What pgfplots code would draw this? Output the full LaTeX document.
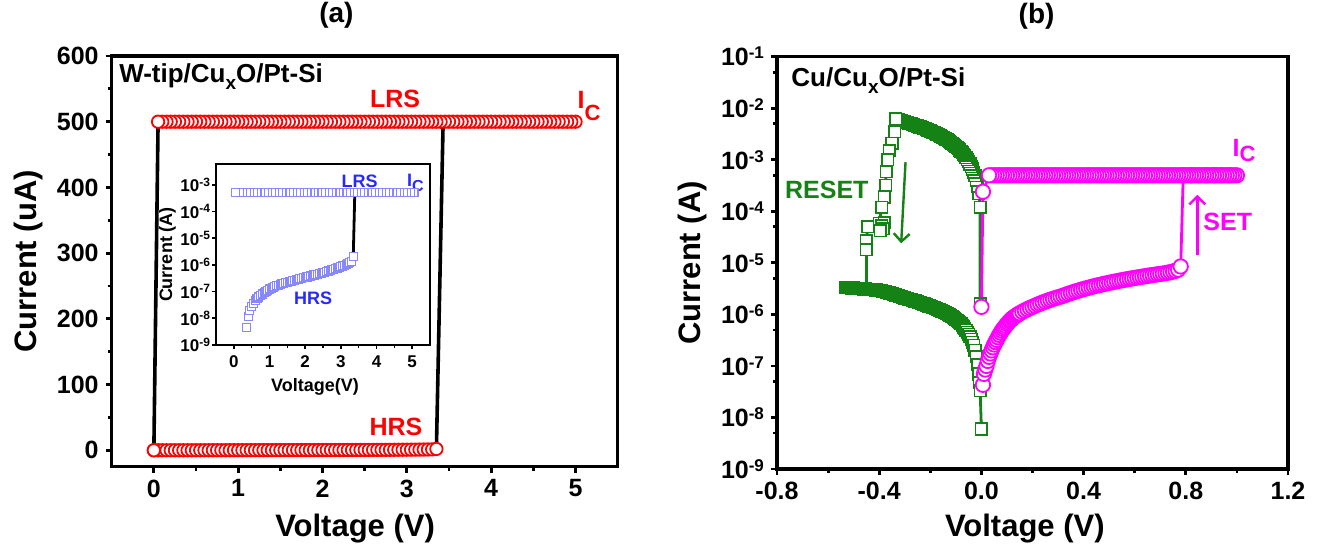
\documentclass[border=0pt]{standalone}
\usepackage{fontspec}
\setmainfont{Liberation Sans}
\usepackage{pgfplots}
\pgfplotsset{compat=1.18}
\usetikzlibrary{arrows.meta}
\definecolor{myred}{RGB}{255,0,0}
\definecolor{mygreen}{RGB}{20,130,20}
\definecolor{mymag}{RGB}{255,0,255}
\definecolor{myblue}{RGB}{40,40,255}
\definecolor{mylblue}{RGB}{135,135,255}
\pgfplotsset{
  myax/.style={scale only axis, tick pos=left, tick align=outside,
    axis line style={line width=1.6pt, line cap=rect},
    every tick/.style={black, line width=1.4pt},
    major tick length=3pt, minor tick length=2pt,
    /pgf/number format/assume math mode=true,
    tick label style={font=\fontsize{12.5}{12.5}\selectfont\bfseries},
    title style={font=\fontsize{14}{14}\selectfont\bfseries},
  },
}
\tikzset{txt/.style={font=\fontsize{12.5}{12.5}\selectfont\bfseries, inner sep=0pt}}
\begin{document}
\begin{tikzpicture}
\useasboundingbox (0,0) rectangle (658.5pt,273pt);
% ---------------- panel (a) ----------------
\begin{axis}[myax, at={(55.85pt,39.65pt)}, anchor=south west,
  width=253pt, height=205.35pt,
  xmin=-0.5, xmax=5.5, ymin=-25, ymax=600,
  xtick={0,1,2,3,4,5}, ytick={0,100,200,300,400,500,600},
  minor x tick num=1, minor y tick num=1,
  xlabel={Voltage (V)}, ylabel={Current (uA)}, title={(a)},
  every axis x label/.style={at={(axis description cs:0.481,-0.170)}, anchor=base, font=\fontsize{15.5}{15.5}\selectfont\bfseries},
  every axis y label/.style={at={(axis description cs:-0.149,0.5)}, rotate=90, anchor=base, font=\fontsize{15.5}{15.5}\selectfont\bfseries},
  title style={at={(axis description cs:0.444,1.052)}, anchor=base},
  clip=false]
\addplot[black, line width=1.8pt, forget plot] coordinates {(0,0) (0.05,500)};
\addplot[black, line width=1.8pt, forget plot] coordinates {(3.35,0) (3.43,500)};
\addplot[only marks, mark=*, mark size=3.1pt, mark options={draw=myred, fill=white, line width=0.9pt}]
 table[row sep=\\] {x y\\
0.00 0\\0.05 0\\0.10 0\\0.15 0\\0.20 0\\0.25 0\\0.30 0.005\\0.35 0.012\\0.40 0.018\\0.45 0.025\\
0.50 0.032\\0.55 0.040\\0.60 0.048\\0.65 0.056\\0.70 0.065\\0.75 0.075\\0.80 0.085\\0.85 0.095\\
0.90 0.105\\0.95 0.115\\1.00 0.125\\1.05 0.135\\1.10 0.145\\1.15 0.155\\1.20 0.165\\1.25 0.175\\
1.30 0.185\\1.35 0.195\\1.40 0.205\\1.45 0.215\\1.50 0.225\\1.55 0.235\\1.60 0.245\\1.65 0.255\\
1.70 0.265\\1.75 0.280\\1.80 0.290\\1.85 0.300\\1.90 0.315\\1.95 0.330\\2.00 0.340\\2.05 0.355\\
2.10 0.370\\2.15 0.385\\2.20 0.400\\2.25 0.420\\2.30 0.435\\2.35 0.450\\2.40 0.470\\2.45 0.490\\
2.50 0.510\\2.55 0.535\\2.60 0.560\\2.65 0.590\\2.70 0.620\\2.75 0.655\\2.80 0.690\\2.85 0.730\\
2.90 0.770\\2.95 0.815\\3.00 0.860\\3.05 0.915\\3.10 0.970\\3.15 1.030\\3.20 1.100\\3.25 1.200\\
3.30 1.350\\3.35 2.000\\};
\addplot[only marks, mark=*, mark size=3.1pt, mark options={draw=myred, fill=white, line width=0.9pt}]
 table[row sep=\\] {x y\\
5.00 500\\4.95 500\\4.90 500\\4.85 500\\4.80 500\\4.75 500\\4.70 500\\4.65 500\\4.60 500\\4.55 500\\
4.50 500\\4.45 500\\4.40 500\\4.35 500\\4.30 500\\4.25 500\\4.20 500\\4.15 500\\4.10 500\\4.05 500\\
4.00 500\\3.95 500\\3.90 500\\3.85 500\\3.80 500\\3.75 500\\3.70 500\\3.65 500\\3.60 500\\3.55 500\\
3.50 500\\3.45 500\\3.40 500\\3.35 500\\3.30 500\\3.25 500\\3.20 500\\3.15 500\\3.10 500\\3.05 500\\
3.00 500\\2.95 500\\2.90 500\\2.85 500\\2.80 500\\2.75 500\\2.70 500\\2.65 500\\2.60 500\\2.55 500\\
2.50 500\\2.45 500\\2.40 500\\2.35 500\\2.30 500\\2.25 500\\2.20 500\\2.15 500\\2.10 500\\2.05 500\\
2.00 500\\1.95 500\\1.90 500\\1.85 500\\1.80 500\\1.75 500\\1.70 500\\1.65 500\\1.60 500\\1.55 500\\
1.50 500\\1.45 500\\1.40 500\\1.35 500\\1.30 500\\1.25 500\\1.20 500\\1.15 500\\1.10 500\\1.05 500\\
1.00 500\\0.95 500\\0.90 500\\0.85 500\\0.80 500\\0.75 500\\0.70 500\\0.65 500\\0.60 500\\0.55 500\\
0.50 500\\0.45 500\\0.40 500\\0.35 500\\0.30 500\\0.25 500\\0.20 500\\0.15 500\\0.10 500\\0.05 500\\
0.00 0\\};
\node[txt, anchor=base west] at (axis cs:-0.415,560) {\fontsize{13}{13}\selectfont W-tip/Cu\raisebox{-3.5pt}{\fontsize{9.5}{9.5}\selectfont x}O/Pt-Si};
\node[txt, anchor=base, text=myred] at (axis cs:2.86,521) {LRS};
\node[txt, anchor=base, text=myred] at (axis cs:2.87,23) {HRS};
\node[txt, anchor=base west, text=myred] at (axis cs:5.02,520) {I\raisebox{-5.8pt}{\fontsize{11}{11}\selectfont C}};
\end{axis}
% ---------------- inset ----------------
\begin{axis}[at={(108pt,100.5pt)}, anchor=south west, width=107pt, height=90.5pt, scale only axis,
  xmin=-0.5, xmax=5.5, ymode=log, log basis y=10, ymin=1e-9, ymax=6e-3,
  xtick={0,1,2,3,4,5}, ytick={1e-9,1e-8,1e-7,1e-6,1e-5,1e-4,1e-3},
  minor x tick num=1, minor y tick style={draw=none},
  tick pos=left, tick align=outside,
  axis line style={line width=0.9pt},
  every tick/.style={black, line width=0.8pt},
  major tick length=2pt, minor tick length=1.3pt,
  /pgf/number format/assume math mode=true,
  tick label style={font=\fontsize{8.5}{8.5}\selectfont\bfseries},
  yticklabel style={inner sep=0.8pt},
  yticklabel={10\raisebox{2.8pt}{\fontsize{6}{6}\selectfont\pgfmathparse{int(round(\tick))}\pgfmathresult}},
  xlabel={Voltage(V)}, ylabel={Current (A)},
  every axis x label/.style={at={(axis description cs:0.463,-0.255)}, anchor=base, font=\fontsize{9}{9}\selectfont\bfseries},
  every axis y label/.style={at={(axis description cs:-0.205,0.5)}, rotate=90, anchor=base, font=\fontsize{9}{9}\selectfont\bfseries},
  clip=false]
\addplot[black, line width=1.4pt, forget plot] coordinates {(3.35,2.5e-6) (3.39,4e-4)};
\addplot[only marks, mark=square*, mark size=2pt, mark options={draw=mylblue, fill=white, line width=0.6pt}]
 table[row sep=\\] {x y\\
0.35 4.5e-9\\0.40 1.2e-8\\0.45 2.0e-8\\0.50 2.8e-8\\0.55 3.6e-8\\0.60 4.5e-8\\0.65 5.4e-8\\0.70 6.3e-8\\
0.75 7.2e-8\\0.80 8.1e-8\\0.85 9.0e-8\\0.90 1.0e-7\\0.95 1.1e-7\\1.00 1.25e-7\\1.05 1.35e-7\\1.10 1.45e-7\\
1.15 1.55e-7\\1.20 1.65e-7\\1.25 1.75e-7\\1.30 1.85e-7\\1.35 1.95e-7\\1.40 2.05e-7\\1.45 2.15e-7\\1.50 2.25e-7\\
1.55 2.35e-7\\1.60 2.45e-7\\1.65 2.55e-7\\1.70 2.65e-7\\1.75 2.8e-7\\1.80 2.9e-7\\1.85 3.0e-7\\1.90 3.15e-7\\
1.95 3.3e-7\\2.00 3.4e-7\\2.05 3.55e-7\\2.10 3.7e-7\\2.15 3.85e-7\\2.20 4.0e-7\\2.25 4.2e-7\\2.30 4.35e-7\\
2.35 4.5e-7\\2.40 4.7e-7\\2.45 4.9e-7\\2.50 5.1e-7\\2.55 5.35e-7\\2.60 5.6e-7\\2.65 5.9e-7\\2.70 6.2e-7\\
2.75 6.55e-7\\2.80 6.9e-7\\2.85 7.3e-7\\2.90 7.7e-7\\2.95 8.15e-7\\3.00 8.6e-7\\3.05 9.15e-7\\3.10 9.7e-7\\
3.15 1.03e-6\\3.20 1.1e-6\\3.25 1.2e-6\\3.30 1.35e-6\\3.35 2.0e-6\\};
\addplot[only marks, mark=square*, mark size=2pt, mark options={draw=mylblue, fill=white, line width=0.6pt}]
 table[row sep=\\] {x y\\
5.05 5e-4\\4.95 5e-4\\4.85 5e-4\\4.75 5e-4\\4.65 5e-4\\4.55 5e-4\\4.45 5e-4\\4.35 5e-4\\4.25 5e-4\\4.15 5e-4\\
4.05 5e-4\\3.95 5e-4\\3.85 5e-4\\3.75 5e-4\\3.65 5e-4\\3.55 5e-4\\3.45 5e-4\\3.35 5e-4\\3.25 5e-4\\3.15 5e-4\\
3.05 5e-4\\2.95 5e-4\\2.85 5e-4\\2.75 5e-4\\2.65 5e-4\\2.55 5e-4\\2.45 5e-4\\2.35 5e-4\\2.25 5e-4\\2.15 5e-4\\
2.05 5e-4\\1.95 5e-4\\1.85 5e-4\\1.75 5e-4\\1.65 5e-4\\1.55 5e-4\\1.45 5e-4\\1.35 5e-4\\1.25 5e-4\\1.15 5e-4\\
1.05 5e-4\\0.95 5e-4\\0.85 5e-4\\0.75 5e-4\\0.65 5e-4\\0.55 5e-4\\0.45 5e-4\\0.35 5e-4\\0.25 5e-4\\0.15 5e-4\\
0.05 5e-4\\};
\node[anchor=base, inner sep=0pt, text=myblue, font=\fontsize{9}{9}\selectfont\bfseries] at (axis cs:3.53,7.6e-4) {LRS};
\node[anchor=base west, inner sep=0pt, text=myblue, font=\fontsize{9}{9}\selectfont\bfseries] at (axis cs:4.85,8.7e-4) {I\raisebox{-2.5pt}{\fontsize{8}{8}\selectfont C}};
\node[anchor=base, inner sep=0pt, text=myblue, font=\fontsize{9}{9}\selectfont\bfseries] at (axis cs:2.22,3.2e-8) {HRS};
\end{axis}
% ---------------- panel (b) ----------------
\begin{axis}[myax, at={(388.5pt,38.5pt)}, anchor=south west,
  width=255.5pt, height=206.15pt,
  xmin=-0.8, xmax=1.2, ymode=log, log basis y=10, ymin=1e-9, ymax=1e-1,
  xtick={-0.8,-0.4,0,0.4,0.8,1.2}, xticklabels={-0.8,-0.4,0.0,0.4,0.8,1.2},
  minor x tick num=1,
  ytick={1e-9,1e-8,1e-7,1e-6,1e-5,1e-4,1e-3,1e-2,1e-1},
  minor ytick={5e-9,5e-8,5e-7,5e-6,5e-5,5e-4,5e-3,5e-2},
  yticklabel={10\raisebox{3.5pt}{\fontsize{8.5}{8.5}\selectfont\pgfmathparse{int(round(\tick))}\pgfmathresult}},
  xlabel={Voltage (V)}, ylabel={Current (A)}, title={(b)},
  every axis x label/.style={at={(axis description cs:0.485,-0.164)}, anchor=base, font=\fontsize{15.5}{15.5}\selectfont\bfseries},
  every axis y label/.style={at={(axis description cs:-0.15,0.5)}, rotate=90, anchor=base, font=\fontsize{15.5}{15.5}\selectfont\bfseries},
  title style={at={(axis description cs:0.508,1.051)}, anchor=base},
  clip=false]
\addplot[mygreen, line width=1.4pt, mark=square*, mark size=2.9pt, mark options={draw=mygreen, fill=white, line width=0.8pt}]
 table[row sep=\\] {x y\\
-0.005 1.6e-6\\-0.005 1.2e-4\\-0.01 2.2e-4\\-0.015 3.1e-4\\-0.02 4.0e-4\\-0.025 4.9e-4\\-0.03 5.7e-4\\-0.035 6.6e-4\\-0.04 7.4e-4\\-0.045 8.3e-4\\-0.05 9.2e-4\\
-0.055 1.0e-3\\-0.06 1.1e-3\\-0.065 1.19e-3\\-0.07 1.28e-3\\-0.075 1.37e-3\\-0.08 1.46e-3\\-0.085 1.55e-3\\-0.09 1.64e-3\\-0.095 1.73e-3\\-0.10 1.82e-3\\-0.105 1.91e-3\\-0.11 2.0e-3\\-0.115 2.09e-3\\-0.12 2.18e-3\\
-0.125 2.27e-3\\-0.13 2.36e-3\\-0.135 2.45e-3\\-0.14 2.54e-3\\-0.145 2.63e-3\\-0.15 2.72e-3\\-0.155 2.81e-3\\-0.16 2.9e-3\\-0.165 2.99e-3\\-0.17 3.08e-3\\-0.175 3.17e-3\\-0.18 3.26e-3\\-0.185 3.35e-3\\-0.19 3.44e-3\\
-0.195 3.53e-3\\-0.20 3.62e-3\\-0.205 3.71e-3\\-0.21 3.8e-3\\-0.215 3.89e-3\\-0.22 3.98e-3\\-0.225 4.07e-3\\-0.23 4.16e-3\\-0.235 4.25e-3\\-0.24 4.34e-3\\-0.245 4.43e-3\\-0.25 4.52e-3\\-0.255 4.61e-3\\-0.26 4.7e-3\\
-0.265 4.79e-3\\-0.27 4.88e-3\\-0.275 4.97e-3\\-0.28 5.06e-3\\-0.285 5.15e-3\\-0.29 5.24e-3\\-0.295 5.33e-3\\-0.30 5.42e-3\\-0.305 5.51e-3\\-0.31 5.6e-3\\-0.315 5.7e-3\\-0.32 5.8e-3\\-0.325 5.9e-3\\-0.33 6.0e-3\\
-0.335 6.2e-3\\-0.34 3.5e-3\\-0.35 2.1e-3\\-0.36 1.5e-3\\-0.366 1.0e-3\\-0.373 5.9e-4\\-0.375 3.2e-4\\
-0.38 1.9e-4\\-0.39 1.2e-4\\-0.40 5.9e-5\\-0.38 6.0e-5\\-0.39 5.2e-5\\-0.385 4.6e-5\\-0.395 4.2e-5\\
-0.445 5.0e-5\\-0.45 2.7e-5\\-0.45 1.8e-5\\
-0.45 3.09e-6\\-0.46 3.12e-6\\-0.47 3.15e-6\\-0.48 3.18e-6\\-0.49 3.21e-6\\-0.50 3.24e-6\\-0.51 3.26e-6\\
-0.52 3.28e-6\\-0.53 3.30e-6\\-0.525 3.29e-6\\-0.52 3.28e-6\\-0.515 3.27e-6\\-0.51 3.26e-6\\-0.505 3.25e-6\\-0.50 3.24e-6\\-0.495 3.22e-6\\-0.49 3.21e-6\\-0.485 3.2e-6\\-0.48 3.18e-6\\
-0.475 3.17e-6\\-0.47 3.15e-6\\-0.465 3.14e-6\\-0.46 3.12e-6\\-0.455 3.1e-6\\-0.45 3.09e-6\\-0.445 3.07e-6\\-0.44 3.06e-6\\-0.435 3.05e-6\\-0.43 3.03e-6\\-0.425 3.02e-6\\-0.42 3.00e-6\\-0.415 2.98e-6\\-0.41 2.97e-6\\
-0.405 2.95e-6\\-0.40 2.93e-6\\-0.395 2.9e-6\\-0.39 2.86e-6\\-0.385 2.82e-6\\-0.38 2.78e-6\\-0.375 2.74e-6\\-0.37 2.70e-6\\-0.365 2.65e-6\\-0.36 2.61e-6\\-0.355 2.56e-6\\-0.35 2.52e-6\\-0.345 2.47e-6\\-0.34 2.43e-6\\
-0.335 2.38e-6\\-0.33 2.34e-6\\-0.325 2.3e-6\\-0.32 2.25e-6\\-0.315 2.2e-6\\-0.31 2.16e-6\\-0.305 2.12e-6\\-0.30 2.08e-6\\-0.295 2.05e-6\\-0.29 2.01e-6\\-0.285 1.98e-6\\-0.28 1.95e-6\\-0.275 1.92e-6\\-0.27 1.89e-6\\
-0.265 1.85e-6\\-0.26 1.82e-6\\-0.255 1.78e-6\\-0.25 1.75e-6\\-0.245 1.72e-6\\-0.24 1.69e-6\\-0.235 1.65e-6\\-0.23 1.62e-6\\-0.225 1.59e-6\\-0.22 1.56e-6\\-0.215 1.52e-6\\-0.21 1.49e-6\\-0.205 1.46e-6\\-0.20 1.43e-6\\
-0.195 1.4e-6\\-0.19 1.37e-6\\-0.185 1.34e-6\\-0.18 1.31e-6\\-0.175 1.28e-6\\-0.17 1.25e-6\\-0.165 1.22e-6\\-0.16 1.19e-6\\-0.155 1.16e-6\\-0.15 1.13e-6\\-0.145 1.1e-6\\-0.14 1.07e-6\\-0.135 1.04e-6\\-0.13 1.01e-6\\
-0.125 9.7e-7\\-0.12 9.4e-7\\-0.115 9.1e-7\\-0.11 8.8e-7\\-0.105 8.4e-7\\-0.10 8.1e-7\\-0.095 7.7e-7\\-0.09 7.4e-7\\-0.085 7.0e-7\\-0.08 6.6e-7\\-0.075 6.1e-7\\-0.07 5.7e-7\\-0.065 5.3e-7\\-0.06 4.9e-7\\
-0.055 4.5e-7\\-0.05 4.1e-7\\-0.045 3.7e-7\\-0.04 3.3e-7\\-0.035 2.9e-7\\-0.03 2.5e-7\\-0.025 2.0e-7\\-0.02 1.5e-7\\
-0.015 1.05e-7\\-0.011 7.0e-8\\-0.008 4.7e-8\\-0.005 3.3e-8\\0.000 6.0e-9\\};
\addplot[mymag, line width=1.4pt, mark=*, mark size=3.6pt, mark options={draw=mymag, fill=white, line width=0.9pt}]
 table[row sep=\\] {x y\\
0.006 4.3e-8\\0.01 7.0e-8\\0.015 8.5e-8\\0.02 1.0e-7\\0.025 1.25e-7\\0.03 1.5e-7\\0.035 1.75e-7\\0.04 2.0e-7\\0.045 2.3e-7\\0.05 2.6e-7\\0.055 2.9e-7\\0.06 3.2e-7\\0.065 3.6e-7\\0.07 4.0e-7\\
0.075 4.4e-7\\0.08 4.8e-7\\0.085 5.2e-7\\0.09 5.6e-7\\0.095 6.0e-7\\0.10 6.5e-7\\0.105 6.9e-7\\0.11 7.4e-7\\0.115 7.8e-7\\0.12 8.3e-7\\0.125 8.6e-7\\0.13 9.0e-7\\0.135 9.4e-7\\0.14 9.8e-7\\0.145 1.01e-6\\0.15 1.05e-6\\
0.16 1.12e-6\\0.17 1.19e-6\\0.18 1.26e-6\\0.19 1.33e-6\\0.20 1.4e-6\\0.21 1.47e-6\\0.22 1.55e-6\\0.23 1.62e-6\\0.24 1.7e-6\\0.25 1.77e-6\\0.26 1.85e-6\\0.27 1.92e-6\\0.28 2.0e-6\\0.29 2.07e-6\\0.30 2.15e-6\\
0.31 2.22e-6\\0.32 2.3e-6\\0.33 2.4e-6\\0.34 2.5e-6\\0.35 2.6e-6\\0.36 2.7e-6\\0.37 2.8e-6\\0.38 2.9e-6\\0.39 3.0e-6\\0.40 3.1e-6\\0.41 3.2e-6\\0.42 3.3e-6\\0.43 3.4e-6\\0.44 3.5e-6\\0.45 3.6e-6\\0.46 3.7e-6\\
0.47 3.8e-6\\0.48 3.9e-6\\0.49 4.0e-6\\0.50 4.1e-6\\0.51 4.2e-6\\0.52 4.3e-6\\0.53 4.4e-6\\0.54 4.5e-6\\0.55 4.6e-6\\0.56 4.7e-6\\0.57 4.8e-6\\0.58 4.9e-6\\0.59 5.0e-6\\0.60 5.1e-6\\0.61 5.2e-6\\0.62 5.3e-6\\
0.63 5.4e-6\\0.64 5.5e-6\\0.65 5.6e-6\\0.66 5.7e-6\\0.67 5.8e-6\\0.68 5.9e-6\\0.69 6.0e-6\\0.70 6.1e-6\\0.71 6.2e-6\\0.72 6.3e-6\\0.73 6.45e-6\\0.74 6.6e-6\\0.75 6.8e-6\\0.76 7.0e-6\\0.77 7.4e-6\\0.78 8.5e-6\\
0.79 5e-4\\0.82 5e-4\\0.85 5e-4\\0.88 5e-4\\0.91 5e-4\\0.94 5e-4\\0.97 5e-4\\1.00 5e-4\\
0.99 5e-4\\0.98 5e-4\\0.97 5e-4\\0.96 5e-4\\0.95 5e-4\\0.94 5e-4\\0.93 5e-4\\0.92 5e-4\\0.91 5e-4\\0.90 5e-4\\
0.89 5e-4\\0.88 5e-4\\0.87 5e-4\\0.86 5e-4\\0.85 5e-4\\0.84 5e-4\\0.83 5e-4\\0.82 5e-4\\0.81 5e-4\\0.80 5e-4\\
0.79 5e-4\\0.78 5e-4\\0.77 5e-4\\0.76 5e-4\\0.75 5e-4\\0.74 5e-4\\0.73 5e-4\\0.72 5e-4\\0.71 5e-4\\0.70 5e-4\\
0.69 5e-4\\0.68 5e-4\\0.67 5e-4\\0.66 5e-4\\0.65 5e-4\\0.64 5e-4\\0.63 5e-4\\0.62 5e-4\\0.61 5e-4\\0.60 5e-4\\
0.59 5e-4\\0.58 5e-4\\0.57 5e-4\\0.56 5e-4\\0.55 5e-4\\0.54 5e-4\\0.53 5e-4\\0.52 5e-4\\0.51 5e-4\\0.50 5e-4\\
0.49 5e-4\\0.48 5e-4\\0.47 5e-4\\0.46 5e-4\\0.45 5e-4\\0.44 5e-4\\0.43 5e-4\\0.42 5e-4\\0.41 5e-4\\0.40 5e-4\\
0.39 5e-4\\0.38 5e-4\\0.37 5e-4\\0.36 5e-4\\0.35 5e-4\\0.34 5e-4\\0.33 5e-4\\0.32 5e-4\\0.31 5e-4\\0.30 5e-4\\
0.29 5e-4\\0.28 5e-4\\0.27 5e-4\\0.26 5e-4\\0.25 5e-4\\0.24 5e-4\\0.23 5e-4\\0.22 5e-4\\0.21 5e-4\\0.20 5e-4\\
0.19 5e-4\\0.18 5e-4\\0.17 5e-4\\0.16 5e-4\\0.15 5e-4\\0.14 5e-4\\0.13 5e-4\\0.12 5e-4\\0.11 5e-4\\0.10 5e-4\\
0.09 5e-4\\0.08 5e-4\\0.07 5e-4\\0.06 5e-4\\0.05 5e-4\\0.04 5e-4\\0.03 5e-4\\
0.006 2.4e-4\\0.000 1.4e-6\\};
\node[txt, anchor=base west] at (axis cs:-0.745,2.6e-2) {\fontsize{13}{13}\selectfont Cu/Cu\raisebox{-3.5pt}{\fontsize{9.5}{9.5}\selectfont x}O/Pt-Si};
\node[txt, anchor=base, text=mygreen] at (axis cs:-0.605,1.8e-4) {RESET};
\node[txt, anchor=base, text=mymag] at (axis cs:0.964,4.2e-5) {SET};
\node[txt, anchor=base west, text=mymag] at (axis cs:0.982,1.18e-3) {I\raisebox{-2.6pt}{\fontsize{11}{11}\selectfont C}};
\draw[mygreen, line width=1.2pt, -{Straight Barb[length=4pt,width=8pt]}] (axis cs:-0.297,9e-4) -- (axis cs:-0.314,2.4e-5);
\draw[mymag, line width=1.2pt, -{Straight Barb[length=4pt,width=8pt]}] (axis cs:0.845,1.4e-5) -- (axis cs:0.845,2.1e-4);
\end{axis}
\end{tikzpicture}
\end{document}
